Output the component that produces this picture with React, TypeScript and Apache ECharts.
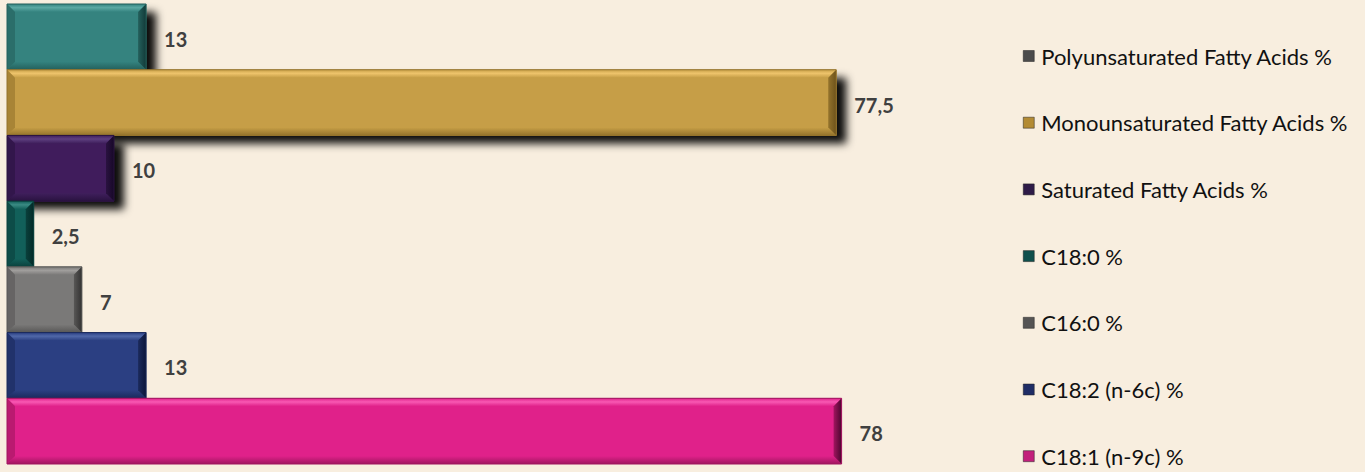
import React, { useEffect, useRef } from "react";
import * as echarts from "echarts";

const categories = [
  "Polyunsaturated Fatty Acids %",
  "Monounsaturated Fatty Acids %",
  "Saturated Fatty Acids %",
  "C18:0 %",
  "C16:0 %",
  "C18:2 (n-6c) %",
  "C18:1 (n-9c) %",
];
const values = [13, 77.5, 10, 2.5, 7, 13, 78];
const barColors = ["#34837f", "#c69e46", "#3f1f5c", "#12605a", "#7a7978", "#2b3f82", "#e0218a"];
const lightColors = ["#5ba8a3", "#eec46c", "#5e3f80", "#3a8a83", "#a09e9c", "#5068a8", "#f859b3"];
const darkColors = ["#24605c", "#94732c", "#2a1240", "#0a403c", "#585756", "#1b2a5c", "#a0155f"];
const edgeColors = ["#123a38", "#6d521b", "#170828", "#032a27", "#333232", "#0c163a", "#4d0630"];
const legendColors = ["#4b4b4b", "#b38b34", "#2e1b48", "#0f4f4c", "#555454", "#1f2d66", "#c21f7b"];
const shadowed = [true, true, true, false, false, false, false];

const FONT = "Lato, 'Open Sans', sans-serif";

export default function App() {
  const ref = useRef<HTMLDivElement>(null);
  useEffect(() => {
    if (!ref.current) return;
    const chart = echarts.init(ref.current, undefined, { renderer: "svg" });
    const series = categories.map((name, i) => ({
      type: "custom",
      name,
      itemStyle: { color: legendColors[i] },
      data: [[values[i], i]],
      encode: { x: 0, y: 1 },
      renderItem: (params: any, api: any) => {
        const v = api.value(0);
        const c = api.value(1);
        const s = api.coord([0, c]);
        const e = api.coord([v, c]);
        const band = api.size([0, 1])[1];
        const x0 = s[0];
        const x1 = e[0];
        const y0 = s[1] - band / 2;
        const y1 = s[1] + band / 2;
        const b = Math.min(8, (x1 - x0) / 2);
        const children: any[] = [
          {
            type: "rect",
            shape: { x: x0, y: y0, width: x1 - x0, height: y1 - y0 },
            style: {
              fill: barColors[i],
              shadowColor: shadowed[i] ? "rgba(0,0,0,0.95)" : "rgba(0,0,0,0)",
              shadowBlur: shadowed[i] ? 8 : 0,
              shadowOffsetX: shadowed[i] ? 10 : 0,
              shadowOffsetY: shadowed[i] ? 8 : 0,
            },
          },
          {
            type: "polygon",
            shape: { points: [[x0, y0], [x1, y0], [x1 - b, y0 + b], [x0 + b, y0 + b]] },
            style: {
              fill: new echarts.graphic.LinearGradient(0, 0, 0, 1, [
                { offset: 0, color: barColors[i] },
                { offset: 0.45, color: lightColors[i] },
                { offset: 1, color: barColors[i] },
              ]),
            },
          },
          {
            type: "polygon",
            shape: { points: [[x0, y1], [x1, y1], [x1 - b, y1 - b], [x0 + b, y1 - b]] },
            style: {
              fill: new echarts.graphic.LinearGradient(0, 0, 0, 1, [
                { offset: 0, color: barColors[i] },
                { offset: 1, color: darkColors[i] },
              ]),
            },
          },
          {
            type: "polygon",
            shape: { points: [[x0, y0], [x0 + b, y0 + b], [x0 + b, y1 - b], [x0, y1]] },
            style: { fill: darkColors[i], opacity: 0.6 },
          },
          {
            type: "polygon",
            shape: { points: [[x1, y0], [x1 - b, y0 + b], [x1 - b, y1 - b], [x1, y1]] },
            style: {
              fill: new echarts.graphic.LinearGradient(0, 0, 1, 0, [
                { offset: 0, color: darkColors[i] },
                { offset: 1, color: edgeColors[i] },
              ]),
            },
          },
          {
            type: "rect",
            shape: { x: x0, y: y0, width: x1 - x0, height: y1 - y0 },
            style: { fill: "none", stroke: darkColors[i], lineWidth: 1 },
          },
          {
            type: "text",
            style: {
              text: String(v).replace(".", ","),
              x: x1 + 18,
              y: s[1] + 2,
              verticalAlign: "middle",
              fill: "#404040",
              fontFamily: FONT,
              fontWeight: "bold",
              fontSize: 20,
            },
          },
        ];
        return { type: "group", children };
      },
    }));
    chart.setOption({
      animation: false,
      backgroundColor: "#f8eedf",
      grid: { left: 7, top: 4, height: 460, width: 963 },
      xAxis: { type: "value", min: 0, max: 90, show: false },
      yAxis: { type: "category", data: categories, show: false, inverse: true },
      legend: {
        orient: "vertical",
        left: 1018,
        top: 40,
        height: 450,
        icon: "rect",
        itemWidth: 11,
        itemHeight: 11,
        itemGap: 44.7,
        textStyle: { fontFamily: FONT, fontSize: 22, lineHeight: 22, color: "#111", padding: [0, 0, 0, 2] },
        data: categories.map((name, i) => ({ name, itemStyle: { color: legendColors[i], borderColor: "#222", borderWidth: 0.5 } })),
      },
      series,
    });
    return () => chart.dispose();
  }, []);
  return <div ref={ref} style={{ position: "fixed", left: 0, top: 0, width: 1365, height: 472 }} />;
}
